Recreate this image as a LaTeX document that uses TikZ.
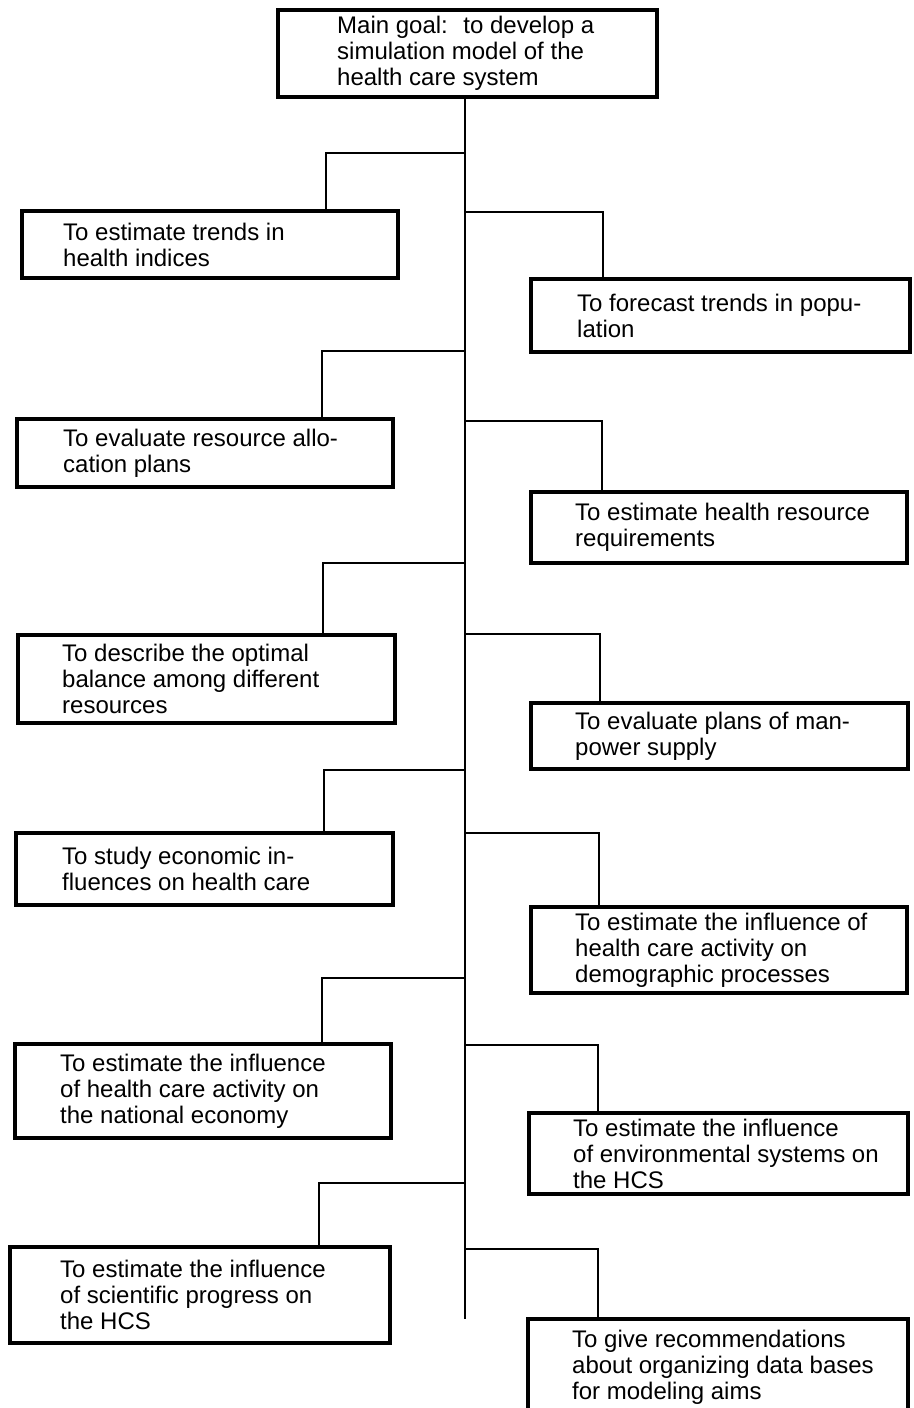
\documentclass[tikz,border=0pt]{standalone}
\usepackage{fontspec}
\setmainfont{Liberation Sans}

% \aimbox{name}{left}{top}{right}{bottom}{text left}{text}
\newcommand{\aimbox}[7]{%
  \node[box, minimum width={(#4-#2)*1pt}, minimum height={(#5-#3)*1pt}]
    (#1) at ({(#2+#4)/2},{(#3+#5)/2}) {};
  \node[txt] (#1t) at ([xshift={(#6-#2)*1pt}]#1.west) {#7};}

% \branch{box name}{height of the horizontal}{x of the drop}
\newcommand{\branch}[3]{%
  \coordinate (#1j) at (465,#2);
  \coordinate (#1k) at (#3,#2);
  \draw[wire] (#1j) -- (#1k) -- (#1k |- #1.north);}

\begin{document}
\begin{tikzpicture}[x=1pt,y=-1pt,
  box/.style={draw, rectangle, line width=3.4pt, inner sep=0pt, outer sep=0pt},
  txt/.style={anchor=west, align=left, inner sep=0pt,
              font=\fontsize{24}{26}\selectfont},
  wire/.style={line width=1.3pt}]
\clip (0,0) rectangle (913,1408);

% main goal and the trunk line below it
\aimbox{goal}{278}{10}{657}{97}{337}{Main goal:~ to develop a\\simulation model of the\\health care system}
\coordinate (tend) at (465,1319);
\draw[wire] (goal.south -| tend) -- (tend);

% left column
\aimbox{L1}{22}{211}{398}{278}{63}{To estimate trends in\\health indices}
\aimbox{L2}{17}{419}{393}{487}{63}{To evaluate resource allo-\\cation plans}
\aimbox{L3}{18}{635}{395}{723}{62}{To describe the optimal\\balance among different\\resources}
\aimbox{L4}{16}{833}{393}{905}{62}{To study economic in-\\fluences on health care}
\aimbox{L5}{15}{1044}{391}{1138}{60}{To estimate the influence\\of health care activity on\\the national economy}
\aimbox{L6}{10}{1247}{390}{1343}{60}{To estimate the influence\\of scientific progress on\\the HCS}

% right column
\aimbox{R1}{531}{279}{910}{352}{577}{To forecast trends in popu-\\lation}
\aimbox{R2}{531}{492}{907}{563}{575}{To estimate health resource\\requirements}
\aimbox{R3}{531}{703}{908}{769}{575}{To evaluate plans of man-\\power supply}
\aimbox{R4}{531}{907}{907}{993}{575}{To estimate the influence of\\health care activity on\\demographic processes}
\aimbox{R5}{529}{1113}{908}{1194}{573}{To estimate the influence\\of environmental systems on\\the HCS}
\aimbox{R6}{528}{1319}{908}{1416}{572}{To give recommendations\\about organizing data bases\\for modeling aims}

% branches from the trunk
\branch{L1}{153}{326}
\branch{R1}{212}{603}
\branch{L2}{351}{322}
\branch{R2}{421}{602}
\branch{L3}{563}{323}
\branch{R3}{634}{600}
\branch{L4}{770}{324}
\branch{R4}{833}{599}
\branch{L5}{978}{322}
\branch{R5}{1045}{598}
\branch{L6}{1183}{319}
\branch{R6}{1249}{598}
\end{tikzpicture}
\end{document}
